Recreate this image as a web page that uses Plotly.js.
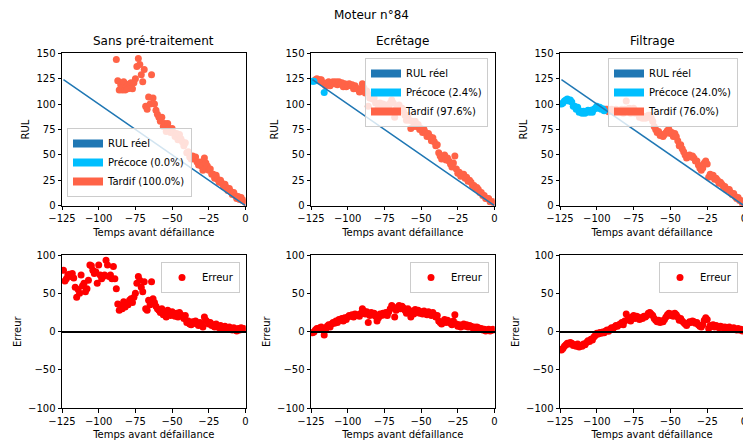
<!DOCTYPE html>
<html><head><meta charset="utf-8">
<script src="https://cdn.plot.ly/plotly-3.0.1.min.js"></script>
<style>html,body{margin:0;padding:0;overflow:hidden;background:#fff}#chart{width:760px;height:442px}</style>
</head><body><div id="chart"></div><script>
// ---------------- data ----------------
const FIG_TITLE = 'Moteur n°84';
const PANEL_TITLES = ['Sans pré-traitement', 'Ecrêtage', 'Filtrage'];
const X_LABEL = 'Temps avant défaillance';
const Y_LABEL_TOP = 'RUL';
const Y_LABEL_BOTTOM = 'Erreur';
const LEGEND_NAMES = [
  ['RUL réel', 'Précoce (0.0%)', 'Tardif (100.0%)'],
  ['RUL réel', 'Précoce (2.4%)', 'Tardif (97.6%)'],
  ['RUL réel', 'Précoce (24.0%)', 'Tardif (76.0%)']
];
const ERROR_NAME = 'Erreur';
const X_TICKS = [-125, -100, -75, -50, -25, 0];
const Y_TICKS_TOP = [0, 25, 50, 75, 100, 125, 150];
const Y_TICKS_BOTTOM = [-100, -50, 0, 50, 100];

const TIME = [
  -124,-123,-122,-121,-120,-119,-118,-117,-116,-115,
  -114,-113,-112,-111,-110,-109,-108,-107,-106,-105,
  -104,-103,-102,-101,-100,-99,-98,-97,-96,-95,
  -94,-93,-92,-91,-90,-89,-88,-87,-86,-85,
  -84,-83,-82,-81,-80,-79,-78,-77,-76,-75,
  -74,-73,-72,-71,-70,-69,-68,-67,-66,-65,
  -64,-63,-62,-61,-60,-59,-58,-57,-56,-55,
  -54,-53,-52,-51,-50,-49,-48,-47,-46,-45,
  -44,-43,-42,-41,-40,-39,-38,-37,-36,-35,
  -34,-33,-32,-31,-30,-29,-28,-27,-26,-25,
  -24,-23,-22,-21,-20,-19,-18,-17,-16,-15,
  -14,-13,-12,-11,-10,-9,-8,-7,-6,-5,
  -4,-3,-2,-1,0
];
const RUL_REEL = [
  124,123,122,121,120,119,118,117,116,115,
  114,113,112,111,110,109,108,107,106,105,
  104,103,102,101,100,99,98,97,96,95,
  94,93,92,91,90,89,88,87,86,85,
  84,83,82,81,80,79,78,77,76,75,
  74,73,72,71,70,69,68,67,66,65,
  64,63,62,61,60,59,58,57,56,55,
  54,53,52,51,50,49,48,47,46,45,
  44,43,42,41,40,39,38,37,36,35,
  34,33,32,31,30,29,28,27,26,25,
  24,23,22,21,20,19,18,17,16,15,
  14,13,12,11,10,9,8,7,6,5,
  4,3,2,1,0
];
// error = predicted RUL - real RUL
const ERR_SANS = [
  80,66,69,74,75,72,76,70,58,45,
  55,50,74,60,63,52,56,67,87,86,
  80,76,78,63,87,74,69,72,74,93,
  87,72,74,69,85,69,56,36,28,34,
  30,39,32,36,35,41,43,38,45,50,
  63,72,67,58,52,65,30,28,41,35,
  65,43,38,33,30,28,25,30,22,26,
  19,28,24,21,26,23,20,24,19,25,
  22,20,17,21,12,14,10,9,13,11,
  14,10,8,12,9,6,19,15,13,10,
  12,8,9,6,10,7,5,8,6,4,
  7,5,3,6,4,2,5,3,1,4,
  2,5,3,4,3
];
const ERR_ECRETAGE = [
  -1.5,-0.5,2,4,3,5,6,4,-4.5,3,
  7,9,6,10,12,11,14,12,16,15,
  17,14,18,16,19,21,20,22,19,23,
  21,22,20,24,30,27,23,26,12,21,
  25,22,24,20,14,18,23,21,24,22,
  25,21,26,30,34,32,19,28,31,34,
  30,33,31,28,24,30,26,19,27,23,
  29,25,28,24,26,23,27,25,22,26,
  24,21,25,22,19,21,14,12,10,13,
  16,12,15,13,11,9,14,22,10,7,
  9,6,8,10,7,9,6,8,7,5,
  6,4,6,5,3,4,2,3,1,2,
  3,1,2,3,2
];
const ERR_FILTRAGE = [
  -24,-22,-19,-17,-15,-16,-14,-15,-18,-17,
  -19,-16,-20,-18,-19,-16,-17,-14,-12,-13,
  -10,-11,-7,-5,-2,-3,-1,-2,-0.5,-1.5,
  1,2,0.5,3,5,4,6,8,7,9,
  10,12,9,14,23,16,18,14,19,21,
  17,20,19,16,18,17,20,19,21,24,
  25,23,21,17,15,13,15,12,14,13,
  16,19,22,24,21,23,20,24,22,19,
  15,17,14,12,10,8,11,13,12,14,
  13,11,12,9,7,6,9,15,18,16,
  4,8,7,9,6,8,7,5,7,6,
  5,6,4,5,6,4,3,5,3,2,
  4,2,3,1,2
];
const ERRORS = [ERR_SANS, ERR_ECRETAGE, ERR_FILTRAGE];

// ---------------- styles / geometry ----------------
const W = 760, H = 442;
const FONT = 'DejaVu Sans, sans-serif';
const COL = {reel: '#1f77b4', precoce: '#00bfff', tardif: '#ff6347', erreur: '#ff0000'};
const px = v => v / W;
const py = v => 1 - v / H;
const XDOM = [[62, 245.5], [311, 494.5], [560, 744]];
const YDOM_TOP = [53.3, 205.7];
const YDOM_BOT = [255, 408.3];

const traces = [];
for (let i = 0; i < 3; i++) {
  const xa = 'x' + (i + 1), ya = 'y' + (i + 1);
  const xb = 'x' + (i + 4), yb = 'y' + (i + 4);
  const err = ERRORS[i];
  const early = {x: [], y: []}, late = {x: [], y: []};
  TIME.forEach((t, k) => {
    const g = err[k] < 0 ? early : late;
    g.x.push(t); g.y.push(RUL_REEL[k] + err[k]);
  });
  traces.push({type: 'scatter', mode: 'markers', x: late.x, y: late.y, xaxis: xa, yaxis: ya,
    marker: {color: COL.tardif, size: 7}, showlegend: false, hoverinfo: 'x+y'});
  traces.push({type: 'scatter', mode: 'markers', x: early.x, y: early.y, xaxis: xa, yaxis: ya,
    marker: {color: COL.precoce, size: 7}, showlegend: false, hoverinfo: 'x+y'});
  traces.push({type: 'scatter', mode: 'lines', x: TIME, y: RUL_REEL, xaxis: xa, yaxis: ya,
    line: {color: COL.reel, width: 1.5}, showlegend: false, hoverinfo: 'x+y'});
  const lgTop = i === 0 ? 'legend' : 'legend' + (i + 1);
  const lgCols = [COL.reel, COL.precoce, COL.tardif];
  LEGEND_NAMES[i].forEach((name, j) => {
    traces.push({type: 'scatter', mode: 'lines', x: [null], y: [null], xaxis: xa, yaxis: ya,
      name: name, legend: lgTop, showlegend: true, line: {color: lgCols[j], width: 8}, hoverinfo: 'skip'});
  });
  traces.push({type: 'scatter', mode: 'markers', x: TIME, y: err, xaxis: xb, yaxis: yb,
    name: ERROR_NAME, legend: 'legend' + (i + 4), showlegend: true,
    marker: {color: COL.erreur, size: 7}, hoverinfo: 'x+y'});
}

function axisBase() {
  return {showline: true, mirror: true, linecolor: '#000', linewidth: 1,
    ticks: 'outside', ticklen: 3.5, tickwidth: 1, tickcolor: '#000', ticklabelstandoff: 1.5,
    showgrid: false, zeroline: false, fixedrange: true,
    tickfont: {family: FONT, size: 10, color: '#000'}};
}
function legendAt(x, y, xanchor, yanchor) {
  return {x: px(x), y: py(y), xanchor: xanchor, yanchor: yanchor, xref: 'paper', yref: 'paper',
    bgcolor: 'rgba(255,255,255,0.8)', bordercolor: '#cccccc', borderwidth: 1,
    font: {family: FONT, size: 10, color: '#000'}, itemclick: false, itemdoubleclick: false};
}

const layout = {
  width: W, height: H, margin: {l: 0, r: 0, t: 0, b: 0},
  paper_bgcolor: '#fff', plot_bgcolor: '#fff',
  font: {family: FONT, size: 10, color: '#000'},
  showlegend: true, hovermode: 'closest',
  title: {text: FIG_TITLE, x: 371.5 / W, xanchor: 'center', y: 1 - 15 / H, yanchor: 'middle',
    font: {family: FONT, size: 12, color: '#000'}},
  annotations: [],
  legend: legendAt(67, 197, 'left', 'bottom'),
  legend2: legendAt(488, 58, 'right', 'top'),
  legend3: legendAt(738, 58, 'right', 'top'),
  legend4: legendAt(240, 262, 'right', 'top'),
  legend5: legendAt(489, 262, 'right', 'top'),
  legend6: legendAt(738, 262, 'right', 'top')
};

for (let i = 0; i < 6; i++) {
  const col = i % 3, top = i < 3;
  const n = i + 1;
  const xk = n === 1 ? 'xaxis' : 'xaxis' + n;
  const yk = n === 1 ? 'yaxis' : 'yaxis' + n;
  const xa = axisBase();
  Object.assign(xa, {domain: [px(XDOM[col][0]), px(XDOM[col][1])], anchor: 'y' + n,
    range: [X_TICKS[0], X_TICKS[X_TICKS.length - 1]], tickvals: X_TICKS,
    title: {text: X_LABEL, font: {family: FONT, size: 10, color: '#000'}, standoff: 5}});
  const ya = axisBase();
  const ydom = top ? YDOM_TOP : YDOM_BOT;
  const yt = top ? Y_TICKS_TOP : Y_TICKS_BOTTOM;
  Object.assign(ya, {domain: [py(ydom[1]), py(ydom[0])], anchor: 'x' + n,
    range: [yt[0], yt[yt.length - 1]], tickvals: yt,
    title: {text: top ? Y_LABEL_TOP : Y_LABEL_BOTTOM, font: {family: FONT, size: 10, color: '#000'}, standoff: 4}});
  if (!top) {
    Object.assign(ya, {zeroline: true, zerolinecolor: '#000', zerolinewidth: 1.5, zerolinelayer: 'above traces'});
  }
  layout[xk] = xa;
  layout[yk] = ya;
  if (top) {
    layout.annotations.push({text: PANEL_TITLES[col], xref: 'paper', yref: 'paper',
      x: px((XDOM[col][0] + XDOM[col][1]) / 2), y: py(YDOM_TOP[0]), xanchor: 'center', yanchor: 'bottom',
      yshift: 3, showarrow: false, font: {family: FONT, size: 12, color: '#000'}});
  }
}

Plotly.newPlot('chart', traces, layout, {displayModeBar: false, staticPlot: false});
</script></body></html>
